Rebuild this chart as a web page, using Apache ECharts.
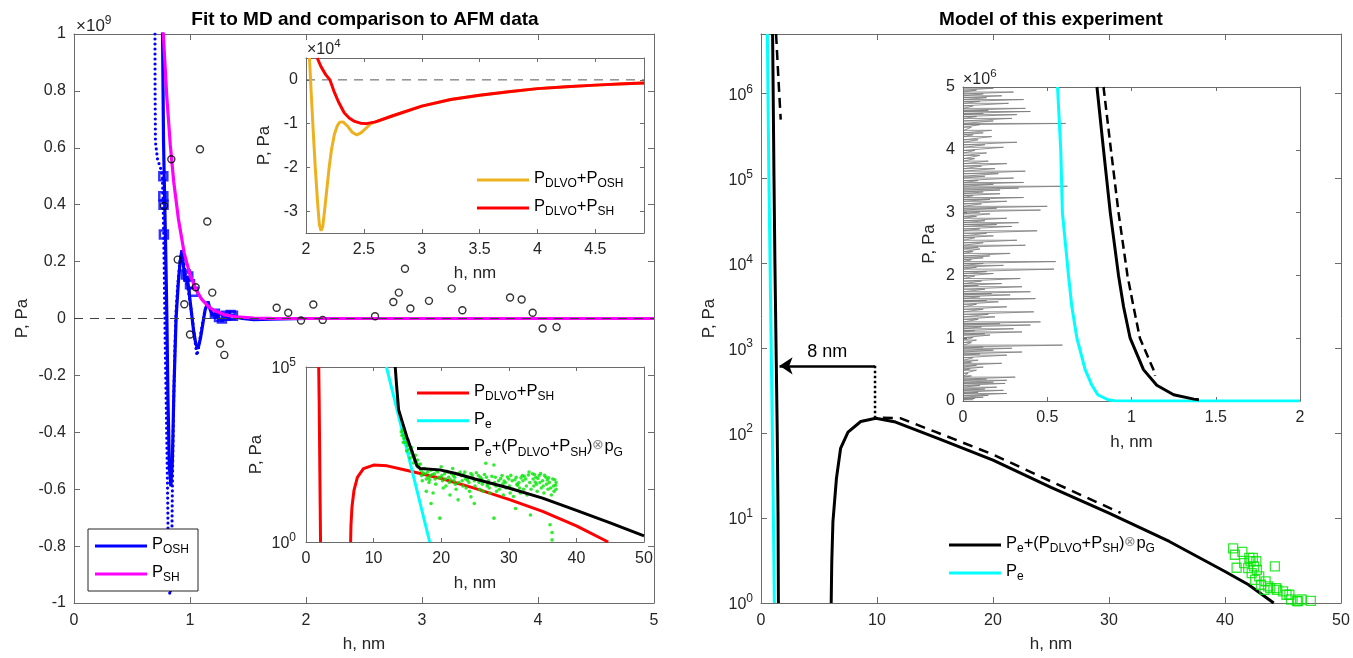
<!DOCTYPE html>
<html>
<head>
<meta charset="utf-8">
<script src="https://cdn.jsdelivr.net/npm/echarts@6/dist/echarts.min.js"></script>
<style>
  html, body { margin: 0; padding: 0; background: #fff; }
  #chart { width: 1353px; height: 658px; }
</style>
</head>
<body>
<div id="chart"></div>
<script>
// ---------- left panel: fit to MD (P in units of 1e9 Pa) ----------
const shCurve = [[0.755,1.13],[0.77,1.0],[0.80,0.78],[0.83,0.61],[0.86,0.48],[0.90,0.35],[0.95,0.23],[1.00,0.154],[1.05,0.103],[1.10,0.068],[1.15,0.046],[1.20,0.030],[1.30,0.013],[1.40,0.006],[1.55,0.0018],[1.70,0.0005],[2.0,0],[3.0,0],[4.0,0],[5.0,0]];
const oshCurve = [[0.762,1.05],[0.772,0.62],[0.78,0.45],[0.79,0.25],[0.80,0.02],[0.81,-0.28],[0.822,-0.52],[0.835,-0.59],[0.848,-0.50],[0.862,-0.24],[0.88,0.0],[0.90,0.13],[0.915,0.20],[0.93,0.24],[0.945,0.18],[0.96,0.13],[0.975,0.15],[0.99,0.10],[1.01,0.03],[1.03,-0.04],[1.05,-0.09],[1.07,-0.105],[1.09,-0.07],[1.11,-0.02],[1.13,0.03],[1.155,0.06],[1.175,0.03],[1.195,0.01],[1.22,0.015],[1.25,0.0],[1.28,-0.008],[1.31,0.005],[1.34,0.012],[1.37,0.012],[1.40,0.005],[1.45,0.0],[1.55,-0.004],[1.70,-0.002],[2.0,0],[5.0,0]];
const oshRaw = [[0.698,1.0],[0.699,0.8],[0.702,0.62],[0.72,0.56],[0.745,0.53],[0.762,0.5],[0.77,0.38],[0.777,0.2],[0.785,-0.05],[0.795,-0.3],[0.803,-0.5],[0.808,-0.65],[0.812,-0.8],[0.818,-0.92],[0.826,-0.97],[0.834,-0.95],[0.84,-0.86],[0.845,-0.72],[0.848,-0.6],[0.853,-0.45],[0.86,-0.28],[0.87,-0.1],[0.88,0.03],[0.895,0.12],[0.91,0.19],[0.925,0.23],[0.94,0.22],[0.955,0.17],[0.97,0.13],[0.985,0.1],[1.0,0.06],[1.02,0.0],[1.04,-0.07],[1.06,-0.13],[1.075,-0.1],[1.09,-0.06],[1.11,-0.01],[1.13,0.03],[1.15,0.05],[1.17,0.04],[1.19,0.02],[1.21,0.005],[1.24,0.0]];
const oshMD = [[0.77,0.50],[0.77,0.43],[0.772,0.40],[0.775,0.295],[0.965,0.155],[0.985,0.148],[1.0,0.12],[1.03,0.094],[1.215,0.017],[1.25,0.005],[1.275,0.0],[1.31,0.01],[1.35,0.012],[1.37,0.01]];
const afmPoints = [[0.776,0.396],[0.839,0.56],[0.894,0.207],[0.951,0.05],[1.0,-0.056],[1.049,0.11],[1.086,0.595],[1.149,0.341],[1.192,0.091],[1.259,-0.088],[1.296,-0.128],[1.747,0.038],[1.847,0.02],[1.957,-0.007],[2.063,0.049],[2.144,-0.005],[2.595,0.008],[2.753,0.058],[2.80,0.091],[2.853,0.175],[2.90,0.035],[3.06,0.062],[3.256,0.105],[3.348,0.029],[3.759,0.074],[3.859,0.067],[3.954,0.02],[4.04,-0.035],[4.16,-0.03]];
const zeroLeft = [[0,0],[5,0]];

// ---------- left top inset (P in units of 1e4 Pa) ----------
const dlvoOsh = [[2.03,0.5],[2.045,-0.3],[2.063,-1.2],[2.08,-2.0],[2.10,-2.8],[2.115,-3.3],[2.13,-3.45],[2.145,-3.35],[2.16,-3.0],[2.18,-2.5],[2.2,-2.0],[2.22,-1.6],[2.245,-1.25],[2.27,-1.05],[2.29,-0.97],[2.32,-0.96],[2.36,-1.06],[2.4,-1.2],[2.44,-1.26],[2.48,-1.2],[2.52,-1.1],[2.56,-1.0],[2.6,-0.96],[2.75,-0.82],[3.0,-0.6],[3.25,-0.45],[3.5,-0.35],[3.75,-0.27],[4.0,-0.2],[4.25,-0.155],[4.5,-0.12],[4.75,-0.09],[4.92,-0.07]];
const dlvoSh = [[2.097,0.5],[2.13,0.3],[2.17,0.12],[2.207,0],[2.24,-0.25],[2.28,-0.5],[2.33,-0.75],[2.373,-0.87],[2.42,-0.95],[2.47,-0.99],[2.52,-1.0],[2.6,-0.96],[2.75,-0.82],[3.0,-0.6],[3.25,-0.45],[3.5,-0.35],[3.75,-0.27],[4.0,-0.2],[4.25,-0.155],[4.5,-0.12],[4.75,-0.09],[4.92,-0.07]];
const zeroInset = [[2,0],[4.92,0]];

// ---------- left bottom inset (log P, Pa) ----------
const dlvoShNear = [[1.88,1e5],[1.95,1e4],[2.0,1e3],[2.05,100],[2.1,10],[2.15,1]];
const dlvoShFar = [[6.6,1],[6.65,3],[6.8,10],[7.1,30],[7.6,70],[8.5,125],[10,158],[12,150],[15,110],[20,65],[25,34],[30,16.5],[35,7.5],[40,2.9],[44.7,1]];
const peInset = [[11.9,1e5],[15.1,316],[18.3,1]];
const convInset = [[13.2,1e5],[13.4,3e4],[13.7,6000],[14.3,2500],[15,900],[15.8,330],[16.4,150],[16.9,126],[19.8,115],[22,92],[25,63],[30,35],[35,18],[40,8],[45,3.5],[50,1.5]];
const afmGreen = [[14.1,1400],[14.2,1100],[14.3,1600],[14.4,700],[14.5,900],[14.6,1200],[14.8,700],[14.9,400],[15,560],[15.1,800],[15.3,450],[15.4,250],[15.5,350],[15.6,500],[15.8,280],[15.9,180],[16,250],[16.2,300],[16.3,190],[16.5,220],[16.7,160],
  [14.7,1000],[15.2,620],[15.7,380],[16.1,210],[16.6,140],[16.9,170],
  [17.0,112],[17.1,79],[17.2,56],[17.5,126],[17.6,89],[17.8,63],[17.8,28],[18,100],[18.1,71],[18.2,50],[18.5,112],[18.4,79],[18.5,12.6],[18.8,25],[19,89],[19.1,63],[19.2,45],[19.5,100],[19.6,71],[19.8,4.8],
  [20,141],[20.1,79],[20.2,56],[20.3,35],[20.5,89],[20.6,63],[20.7,40],[21,100],[21.1,71],[21.2,50],[21.3,22],[21.7,126],[21.8,79],[21.9,56],[22,71],[22.1,45],[22.2,32],[22.5,89],[22.5,16],[22.6,50],
  [23,79],[23.1,56],[23.2,40],[23.5,100],[23.6,63],[23.7,35],[24,71],[24.1,50],[24.2,28],[24.4,91],[24.4,19.5],[24.9,12.6],[24.9,56],[25,40],[25.5,79],[25.6,50],[25.7,32],[26,63],[26.1,45],[26.2,28],
  [26.6,178],[26.7,71],[26.8,40],[27,56],[27.1,35],[27.2,25],[27.8,158],[27.8,4.8],[27.9,50],[28,71],[28.1,40],[28.2,28],[28.5,56],[28.6,32],[29,79],[29.1,45],[29.2,22],[29.5,50],[29.6,35],
  [30,63],[30.1,40],[30.2,25],[30.5,56],[30.6,32],[30.7,20],[31,9.1],[31.1,71],[31.2,45],[31.5,50],[31.6,35],[31.7,25],[32,79],[32.1,56],[32.2,32],[32.5,63],[32.6,40],[32.7,22],
  [33,100],[33.1,50],[33.2,5.9],[33.3,32],[33.5,89],[33.6,63],[33.7,40],[34,71],[34.1,45],[34.2,28],[34.5,79],[34.6,50],[34.7,91],[34.8,35],[35,56],[35.1,40],[35.2,25],[35.5,71],[35.6,45],[35.7,59],[35.8,32],
  [36,50],[36.1,3.1],[36.2,35],[36.3,22],[36.4,1.86],[36.4,1.15],[36.5,63],[36.6,40],[36.7,28],[37,50],[37,32],
  [17.3,95],[18.7,85],[19.3,110],[20.8,105],[21.5,90],[22.8,100],[23.3,85],[24.6,80],[25.2,95],[25.8,70],[26.4,85],[27.5,75],[28.8,65],[29.8,72],[30.3,80],[30.9,60],[31.8,68],[32.3,75],[32.9,82],[33.8,85],[34.3,65],[35.3,80],[35.9,68],[36.8,60],
  [18.3,60],[19.9,68],[21.4,60],[23.9,58],[26.9,45],[29.3,55],[31.3,42],[33.9,52],[36.9,42]];

// ---------- right panel: model of this experiment (log P, Pa) ----------
const peMain = [[0.55,5e6],[0.6,1e6],[0.68,1e5],[0.78,1e4],[0.88,1e3],[0.98,100],[1.07,10],[1.15,1]];
const convNear = [[1.0,5e6],[1.05,1e6],[1.12,1e5],[1.2,1e4],[1.3,1e3],[1.4,100],[1.47,10],[1.5,1]];
const convNearAlt = [[1.3,5e6],[1.5,1.5e6],[1.7,4.9e5]];
const convFar = [[6.05,1],[6.1,3],[6.2,9],[6.5,29],[6.86,66],[7.5,103],[8.6,137],[9.9,150],[11.6,135],[15.3,86],[20,48],[25,23],[30,11.4],[35.2,5.3],[40,2.35],[42,1.65],[44.2,1]];
const convFarAlt = [[10.5,152],[12,150],[15,104],[20,56],[25,27],[31,11.5]];
const afmSquares = [[40.7,4.4],[40.85,3.7],[41.0,2.6],[41.5,4.0],[41.65,2.95],[42.0,2.57],[42.1,3.4],[42.2,3.1],[42.3,2.25],[42.4,3.4],[42.5,2.7],[42.6,1.87],[42.7,3.1],[42.75,2.45],[42.95,2.06],[43.1,1.64],[43.4,1.43],[43.5,1.8],[43.7,1.57],[43.9,1.5],[44.3,2.7],[44.4,1.5],[44.5,1.43],[45.0,1.37],[45.3,1.25],[45.55,1.25],[45.7,1.1],[46.2,1.05],[46.3,1.05],[46.6,1.1],[47.4,1.06]];
const jumpFrom = 9.83, jumpTo = 1.6, jumpLevel = 620, jumpBase = 150;

// ---------- right inset (P in units of 1e6 Pa) ----------
const peIn = [[0.561,5],[0.58,4],[0.59,3],[0.626,2],[0.646,1.5],[0.676,1],[0.725,0.5],[0.765,0.25],[0.80,0.1],[0.86,0.02],[0.9,0.005],[1.0,0],[2.0,0]];
const convIn = [[0.795,5],[0.834,4],[0.874,3],[0.923,2],[0.953,1.5],[0.992,1],[1.071,0.5],[1.15,0.25],[1.25,0.1],[1.37,0.03],[1.4,0.02]];
const convInAlt = [[0.834,5],[0.878,4],[0.923,3],[0.976,2],[1.012,1.5],[1.05,1],[1.13,0.5],[1.14,0.4]];
// noisy trace: [P level, h reach]
const noiseTrace = [[4.98,0.18],[4.95,0.08],[4.92,0.30],[4.89,0.12],[4.86,0.23],[4.83,0.14],[4.80,0.36],[4.77,0.10],[4.74,0.27],[4.70,0.06],[4.66,0.37],[4.63,0.15],[4.61,0.40],[4.58,0.12],[4.56,0.32],[4.53,0.08],[4.50,0.29],[4.46,0.18],[4.42,0.61],[4.40,0.10],[4.36,0.05],[4.31,0.17],[4.27,0.12],[4.24,0.06],[4.21,0.17],[4.16,0.09],[4.12,0.32],[4.08,0.13],[4.04,0.24],[3.99,0.07],[3.95,0.14],[3.91,0.10],[3.86,0.07],[3.82,0.15],[3.78,0.26],[3.74,0.11],[3.70,0.19],[3.66,0.37],[3.62,0.21],[3.58,0.13],[3.55,0.30],[3.51,0.09],[3.48,0.36],[3.45,0.18],[3.42,0.62],[3.39,0.33],[3.36,0.22],[3.33,0.12],[3.30,0.22],[3.27,0.06],[3.24,0.36],[3.21,0.16],[3.18,0.26],[3.14,0.11],[3.10,0.50],[3.07,0.20],[3.04,0.46],[3.01,0.10],[2.98,0.16],[2.94,0.08],[2.91,0.26],[2.87,0.13],[2.84,0.33],[2.81,0.20],[2.78,0.29],[2.74,0.10],[2.71,0.44],[2.67,0.14],[2.63,0.18],[2.60,0.07],[2.56,0.32],[2.52,0.12],[2.48,0.37],[2.45,0.09],[2.42,0.10],[2.38,0.06],[2.35,0.28],[2.31,0.16],[2.28,0.12],[2.25,0.05],[2.22,0.55],[2.19,0.12],[2.16,0.24],[2.13,0.08],[2.10,0.54],[2.06,0.14],[2.03,0.18],[1.99,0.07],[1.95,0.34],[1.91,0.11],[1.87,0.23],[1.84,0.09],[1.82,0.35],[1.78,0.13],[1.74,0.40],[1.71,0.17],[1.69,0.28],[1.66,0.10],[1.63,0.43],[1.60,0.14],[1.58,0.21],[1.54,0.08],[1.50,0.26],[1.46,0.12],[1.42,0.42],[1.38,0.15],[1.34,0.19],[1.30,0.09],[1.26,0.46],[1.23,0.22],[1.21,0.40],[1.18,0.11],[1.15,0.30],[1.12,0.07],[1.10,0.35],[1.07,0.13],[1.05,0.16],[1.01,0.06],[0.97,0.08],[0.93,0.05],[0.89,0.59],[0.86,0.12],[0.84,0.29],[0.81,0.18],[0.78,0.35],[0.75,0.10],[0.73,0.26],[0.69,0.06],[0.65,0.09],[0.62,0.05],[0.60,0.23],[0.57,0.08],[0.54,0.12],[0.51,0.04],[0.49,0.08],[0.44,0.03],[0.40,0.05],[0.38,0.31],[0.35,0.14],[0.33,0.26],[0.30,0.18],[0.28,0.25],[0.25,0.10],[0.22,0.20],[0.19,0.13],[0.17,0.24],[0.14,0.09],[0.12,0.26],[0.09,0.15],[0.06,0.12],[0.04,0.07],[0.02,0.06]];

// ---------- styling ----------
const FONT = '"Liberation Sans", Arial, Helvetica, sans-serif';
const TXT = '#262626', AXL = '#6b6b6b';
const BLUE = '#0000ff', MAG = '#ff00ff', RED = '#ff0000', ORANGE = '#edb120', CYAN = '#00ffff', GREEN = '#00e600';
const TICK_FONT = 16, NAME_FONT = 17;

const LEGEND_TEXT = {
  'P_OSH': '{n|P}{s|OSH}',
  'P_SH': '{n|P}{s|SH}',
  'P_DLVO+P_OSH': '{n|P}{s|DLVO}{n|+P}{s|OSH}',
  'P_DLVO+P_SH': '{n|P}{s|DLVO}{n|+P}{s|SH}',
  'P_e': '{n|P}{s|e}',
  'P_e+(P_DLVO+P_SH)⊗p_G': '{n|P}{s|e}{n|+(P}{s|DLVO}{n|+P}{s|SH}{n|)}{o|⊗}{n|p}{s|G}'
};
const legendRich = {
  n: {fontSize: 16.5, fontFamily: FONT, color: '#000', lineHeight: 20, verticalAlign: 'top'},
  s: {fontSize: 12, fontFamily: FONT, color: '#000', lineHeight: 6, verticalAlign: 'bottom'},
  o: {fontSize: 14, fontFamily: FONT, color: '#8a8a8a', lineHeight: 20, verticalAlign: 'top'}
};

function powLabel(shown) {
  return function (v) {
    const e = Math.log10(v), r = Math.round(e);
    if (Math.abs(e - r) > 1e-6 || shown.indexOf(r) < 0) return '';
    return '{b|10}{p|' + r + '}';
  };
}

function axis(g, pos, o) {
  const mirror = pos === 'top' || pos === 'right';
  const size = o.size || TICK_FONT;
  return {
    gridIndex: g, position: pos, type: o.type || 'value', logBase: 10,
    min: o.min, max: o.max, interval: o.interval,
    name: mirror ? '' : o.name, nameLocation: 'middle', nameGap: o.nameGap,
    nameTextStyle: {color: TXT, fontSize: NAME_FONT, fontFamily: FONT},
    axisLine: {show: true, onZero: false, lineStyle: {color: AXL, width: 1}},
    axisTick: {show: o.ticks !== false, inside: true, length: o.tick || 5, lineStyle: {color: AXL}, customValues: o.custom},
    axisLabel: {
      show: !mirror, color: TXT, fontSize: size, fontFamily: FONT, margin: o.margin || 8,
      formatter: o.fmt, customValues: o.custom,
      rich: {
        b: {fontSize: size, fontFamily: FONT, color: TXT, lineHeight: 20, verticalAlign: 'bottom'},
        p: {fontSize: Math.round(size * 0.72), fontFamily: FONT, color: TXT, lineHeight: 6, verticalAlign: 'top'}
      }
    },
    splitLine: {show: false}
  };
}
function pair(g, dir, o) {
  return dir === 'x' ? [axis(g, 'bottom', o), axis(g, 'top', o)] : [axis(g, 'left', o), axis(g, 'right', o)];
}

function line(g, name, data, color, width, type, z) {
  return {
    type: 'line', name: name, xAxisIndex: 2 * g, yAxisIndex: 2 * g, data: data,
    symbol: 'none', showSymbol: false, silent: true, z: z || 2,
    lineStyle: {color: color, width: width, type: type || 'solid'},
    itemStyle: {color: color}
  };
}
function dots(g, name, data, symbol, size, color, fill, bw, z) {
  return {
    type: 'scatter', name: name, xAxisIndex: 2 * g, yAxisIndex: 2 * g, data: data,
    symbol: symbol, symbolSize: size, silent: true, z: z || 3,
    itemStyle: {color: fill, borderColor: color, borderWidth: bw}
  };
}

const noisePath = [];
noiseTrace.forEach(function (d) { noisePath.push([0.005, d[0]]); noisePath.push([d[1], d[0]]); });

const oshDotted = line(0, 'P_OSH raw', oshRaw, BLUE, 3.2, [0, 5]);
oshDotted.lineStyle.cap = 'round';

const jumpSeries = line(3, 'jump', [[jumpFrom, jumpLevel], [jumpFrom, jumpBase]], '#000', 2.5, [2.5, 2.5], 5);
jumpSeries.markLine = {
  silent: true, symbol: ['none', 'arrow'], symbolSize: 13,
  lineStyle: {color: '#000', width: 2.5, type: 'solid'},
  label: {show: true, position: 'middle', formatter: '8 nm', color: '#000', fontSize: 18, fontFamily: FONT, distance: 5},
  data: [[{coord: [jumpFrom, jumpLevel]}, {coord: [jumpTo, jumpLevel]}]]
};

const legendBase = {
  orient: 'vertical', selectedMode: false, icon: 'rect', itemWidth: 52, itemHeight: 3, itemGap: 8, padding: 0,
  formatter: function (n) { return LEGEND_TEXT[n] || n; },
  textStyle: {fontSize: 16.5, fontFamily: FONT, color: '#000', rich: legendRich}
};

const option = {
  animation: false,
  backgroundColor: '#fff',
  grid: [
    {left: 74, top: 34, width: 580, height: 571},
    {left: 306, top: 58, width: 338, height: 175, show: true, backgroundColor: '#fff', borderWidth: 0},
    {left: 306, top: 367, width: 338, height: 175, show: true, backgroundColor: '#fff', borderWidth: 0},
    {left: 761, top: 34, width: 580, height: 571},
    {left: 963, top: 87, width: 337, height: 314, show: true, backgroundColor: '#fff', borderWidth: 0}
  ],
  xAxis: [].concat(
    pair(0, 'x', {min: 0, max: 5, interval: 1, name: 'h, nm', nameGap: 33, tick: 6, margin: 10}),
    pair(1, 'x', {min: 2, max: 4.92, custom: [2, 2.5, 3, 3.5, 4, 4.5], name: 'h, nm', nameGap: 32, tick: 4, margin: 9}),
    pair(2, 'x', {min: 0, max: 50, interval: 10, name: 'h, nm', nameGap: 33, tick: 4, margin: 9}),
    pair(3, 'x', {min: 0, max: 50, interval: 10, name: 'h, nm', nameGap: 33, tick: 6, margin: 10}),
    pair(4, 'x', {min: 0, max: 2, interval: 0.5, name: 'h, nm', nameGap: 33, tick: 4, margin: 9})
  ),
  yAxis: [].concat(
    pair(0, 'y', {min: -1, max: 1, interval: 0.2, name: 'P, Pa', nameGap: 43, tick: 6}),
    pair(1, 'y', {min: -3.5, max: 0.5, custom: [-3, -2, -1, 0], name: 'P, Pa', nameGap: 33, tick: 4}),
    pair(2, 'y', {type: 'log', min: 1, max: 1e5, name: 'P, Pa', nameGap: 41, ticks: false, margin: 10, fmt: powLabel([0, 5])}),
    pair(3, 'y', {type: 'log', min: 1, max: 5e6, name: 'P, Pa', nameGap: 43, tick: 6, fmt: powLabel([0, 1, 2, 3, 4, 5, 6])}),
    pair(4, 'y', {min: 0, max: 5, interval: 1, name: 'P, Pa', nameGap: 25, tick: 4})
  ),
  legend: [
    Object.assign({}, legendBase, {data: ['P_OSH', 'P_SH'], left: 88, top: 529,
      padding: [7, 9, 7, 7], borderColor: '#262626', borderWidth: 1, backgroundColor: '#fff'}),
    Object.assign({}, legendBase, {data: ['P_DLVO+P_OSH', 'P_DLVO+P_SH'], left: 477, top: 170}),
    Object.assign({}, legendBase, {data: ['P_DLVO+P_SH', 'P_e', 'P_e+(P_DLVO+P_SH)⊗p_G'], left: 417, top: 383, itemGap: 7.7}),
    Object.assign({}, legendBase, {data: ['P_e+(P_DLVO+P_SH)⊗p_G', 'P_e'], left: 949, top: 535})
  ],
  graphic: [
    {type: 'text', x: 365, y: 20, style: {text: 'Fit to MD and comparison to AFM data', font: 'bold 19px ' + FONT, fill: '#000', align: 'center', verticalAlign: 'middle'}},
    {type: 'text', x: 1051, y: 20, style: {text: 'Model of this experiment', font: 'bold 19px ' + FONT, fill: '#000', align: 'center', verticalAlign: 'middle'}},
    {type: 'text', x: 76, y: 25, style: {text: '{t|×10}{p|9}', verticalAlign: 'middle', rich: {
      t: {fontSize: 17, fontFamily: FONT, fill: TXT, lineHeight: 20, verticalAlign: 'bottom'},
      p: {fontSize: 12, fontFamily: FONT, fill: TXT, lineHeight: 6, verticalAlign: 'top'}}}},
    {type: 'text', x: 307, y: 48, style: {text: '{t|×10}{p|4}', verticalAlign: 'middle', rich: {
      t: {fontSize: 16, fontFamily: FONT, fill: TXT, lineHeight: 20, verticalAlign: 'bottom'},
      p: {fontSize: 11.5, fontFamily: FONT, fill: TXT, lineHeight: 6, verticalAlign: 'top'}}}},
    {type: 'text', x: 963, y: 78, style: {text: '{t|×10}{p|6}', verticalAlign: 'middle', rich: {
      t: {fontSize: 16, fontFamily: FONT, fill: TXT, lineHeight: 20, verticalAlign: 'bottom'},
      p: {fontSize: 11.5, fontFamily: FONT, fill: TXT, lineHeight: 6, verticalAlign: 'top'}}}}
  ],
  series: [
    // left main
    oshDotted,
    line(0, 'P_OSH', oshCurve, BLUE, 3.2),
    dots(0, 'P_OSH MD', oshMD, 'rect', 8, BLUE, 'rgba(0,0,0,0)', 2.5, 3),
    line(0, 'P_SH', shCurve, MAG, 3.2, 'solid', 4),
    dots(0, 'AFM', afmPoints, 'circle', 7, '#000', 'rgba(0,0,0,0)', 1.4, 5),
    line(0, 'zero', zeroLeft, '#404040', 1, [9, 7], 6),
    // left top inset
    line(1, 'zero2', zeroInset, '#555', 1, [9, 7], 2),
    line(1, 'P_DLVO+P_OSH', dlvoOsh, ORANGE, 3, 'solid', 3),
    line(1, 'P_DLVO+P_SH', dlvoSh, RED, 3, 'solid', 4),
    // left bottom inset
    line(2, 'P_DLVO+P_SH', dlvoShNear, RED, 3, 'solid', 2),
    line(2, 'P_DLVO+P_SH', dlvoShFar, RED, 3, 'solid', 2),
    line(2, 'P_e', peInset, CYAN, 3, 'solid', 3),
    dots(2, 'AFM green', afmGreen, 'circle', 3.6, GREEN, GREEN, 0, 4),
    line(2, 'P_e+(P_DLVO+P_SH)⊗p_G', convInset, '#000', 3, 'solid', 5),
    // right main
    line(3, 'P_e', peMain, CYAN, 3, 'solid', 2),
    line(3, 'P_e+(P_DLVO+P_SH)⊗p_G', convNear, '#000', 3, 'solid', 3),
    line(3, 'alt near', convNearAlt, '#000', 2.5, [10, 6], 3),
    line(3, 'P_e+(P_DLVO+P_SH)⊗p_G', convFar, '#000', 3, 'solid', 3),
    line(3, 'alt far', convFarAlt, '#000', 2.5, [10, 7], 3),
    jumpSeries,
    dots(3, 'AFM squares', afmSquares, 'rect', 9, GREEN, 'rgba(0,0,0,0)', 1.3, 4),
    // right inset
    line(4, 'noise', noisePath, '#7a7a7a', 0.8, 'solid', 2),
    line(4, 'P_e inset', peIn, CYAN, 3, 'solid', 3),
    line(4, 'conv inset', convIn, '#000', 3, 'solid', 3),
    line(4, 'alt inset', convInAlt, '#000', 2.5, [9, 5], 3)
  ]
};

const chart = echarts.init(document.getElementById('chart'));
chart.setOption(option);
window.onresize = function () { chart.resize(); };
</script>
</body>
</html>
